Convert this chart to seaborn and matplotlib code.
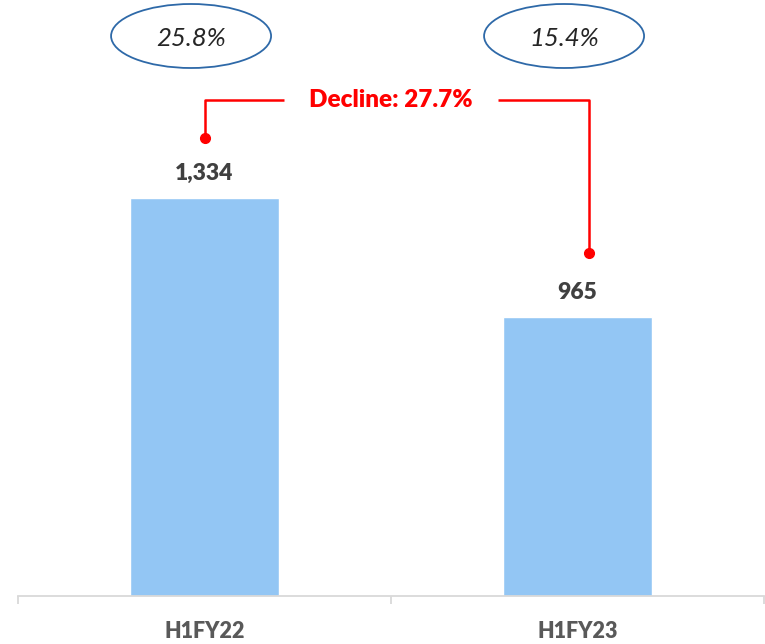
import matplotlib
matplotlib.use("Agg")
import matplotlib.pyplot as plt
from matplotlib.patches import Ellipse
import pandas as pd
import seaborn as sns

periods = ["H1FY22", "H1FY23"]
values = [1334, 965]
value_labels = ["1,334", "965"]
margins = ["25.8%", "15.4%"]
decline_label = "Decline: 27.7%"

BAR = "#93C6F4"
GREY_TXT = "#404040"
RED = "#FF0000"


def px_to_data(ax, y_val, px):
    """Return data y that sits `px` pixels above y_val."""
    _, y_disp = ax.transData.transform((0, y_val))
    return ax.transData.inverted().transform((0, y_disp + px))[1]


def main():
    sns.set_style("white")
    plt.rcParams["font.family"] = ["Lato", "DejaVu Sans"]

    df = pd.DataFrame({"period": periods, "value": values})

    fig = plt.figure(figsize=(7.65, 6.44), dpi=100)
    ax = fig.add_axes([18 / 765, 48 / 644, 746 / 765, 596 / 644])

    sns.barplot(data=df, x="period", y="value", color=BAR, width=0.4,
                saturation=1, ax=ax)
    ax.set_xlim(-0.5, 1.5)
    ax.set_ylim(100, 1948)

    for s in ["left", "right", "top"]:
        ax.spines[s].set_visible(False)
    ax.spines["bottom"].set_color("#D9D9D9")
    ax.spines["bottom"].set_linewidth(1.3)
    ax.set_yticks([])
    ax.set_xlabel("")
    ax.set_ylabel("")
    ax.set_xticks([-0.5, 0.5, 1.5], minor=True)
    ax.tick_params(axis="x", which="minor", bottom=True, length=6, width=1.3,
                   color="#D9D9D9", direction="out")
    ax.tick_params(axis="x", which="major", length=0, pad=18)
    for lbl in ax.get_xticklabels():
        lbl.set_fontsize(15.5)
        lbl.set_fontweight("heavy")
        lbl.set_color("#595959")

    # value labels
    for i, (v, t) in enumerate(zip(values, value_labels)):
        ax.annotate(t, (i, v), xytext=(0, 10), textcoords="offset points",
                    ha="center", va="bottom", fontsize=16.5, fontweight="heavy",
                    color=GREY_TXT)

    # margin ellipses
    for i, t in enumerate(margins):
        cx = (i + 0.5) / 2 - 0.018
        ax.add_patch(Ellipse((cx, 0.9396), 160 / 746, 64 / 596,
                             transform=ax.transAxes, fill=False,
                             edgecolor="#2E69A8", linewidth=1.3,
                             clip_on=False))
        ax.text(cx, 0.935, t, transform=ax.transAxes, ha="center",
                va="center", fontsize=18.5, fontstyle="italic",
                color="#262626")

    # decline connector
    y_top = px_to_data(ax, 100, 496)
    y_left = px_to_data(ax, values[0], 60)
    y_right = px_to_data(ax, values[1], 64)
    x_left, x_right = 0.0, 1.03
    ax.plot([x_left, x_left, 0.213], [y_left, y_top, y_top], color=RED,
            lw=1.8, clip_on=False, solid_capstyle="butt")
    ax.plot([0.786, x_right, x_right], [y_top, y_top, y_right], color=RED,
            lw=1.8, clip_on=False, solid_capstyle="butt")
    ax.plot([x_left, x_right], [y_left, y_right], "o", color=RED, ms=7,
            clip_on=False)
    ax.text(0.5, y_top, decline_label, ha="center", va="center",
            fontsize=17.5, fontweight="heavy", color=RED)

    fig.savefig("out.png", dpi=100)
    plt.close(fig)


if __name__ == "__main__":
    main()
